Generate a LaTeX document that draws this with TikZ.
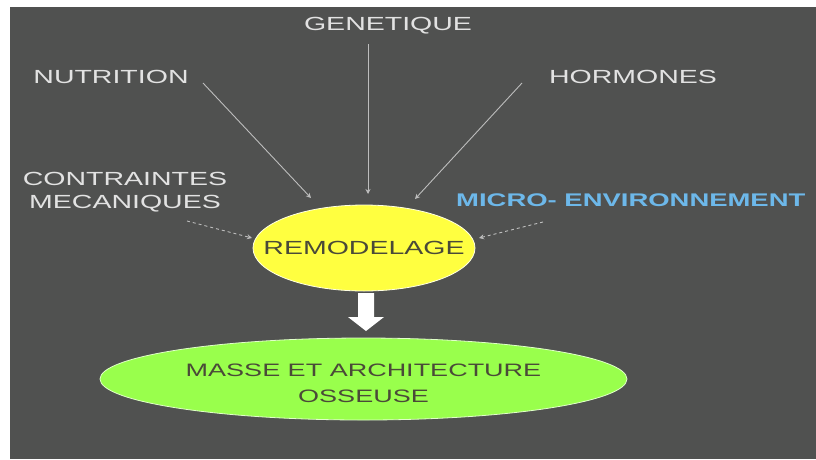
\documentclass[tikz,border=0pt]{standalone}
\usepackage{fontspec}
\setmainfont{Liberation Sans}
\newfontfamily\wf[FakeStretch=1.5]{Liberation Sans}
\usetikzlibrary{shapes.geometric,arrows.meta}
\definecolor{bg}{HTML}{505150}
\definecolor{lbl}{HTML}{E2E2E2}
\definecolor{lnk}{HTML}{BDBDBD}
\definecolor{yel}{HTML}{FFFF40}
\definecolor{grn}{HTML}{99FF4C}
\definecolor{blu}{HTML}{6DB8EA}
\definecolor{dtxt}{HTML}{4A4A38}
\tikzset{
  lab/.style={text=lbl, font=\wf\fontsize{19}{23}\selectfont, inner sep=0pt, align=center},
  link/.style={draw=lnk, line width=0.9pt, -{Stealth[length=5pt,width=5pt]}},
  dlink/.style={link, dash pattern=on 3pt off 3pt},
  oval/.style={ellipse, line width=0.8pt, inner sep=0pt},
  ovaltext/.style={text=dtxt, inner sep=0pt, align=center},
}
\begin{document}
\begin{tikzpicture}[x=1pt,y=-1pt]
\useasboundingbox (0,0) rectangle (816,459);
\fill[white] (0,0) rectangle (816,459);
\fill[bg] (10,7) rectangle (816,459);
% labels
\node[lab] (gen) at (388,26) {GENETIQUE};
\node[lab] (nut) at (111,77) {NUTRITION};
\node[lab] (hor) at (633,77) {HORMONES};
\node[lab] (con) at (125,192) {CONTRAINTES\\MECANIQUES};
\node[lab, text=blu, anchor=west, font=\wf\bfseries\fontsize{18.3}{22}\selectfont] (mic) at (456,200) {MICRO- ENVIRONNEMENT};
% ellipses
\node[oval, draw=white!85!yel, fill=yel, minimum width=222pt, minimum height=86pt] (rem) at (364,248) {};
\node[ovaltext, font=\wf\fontsize{19}{23}\selectfont] (remt) at (rem.center) {REMODELAGE};
\node[oval, draw=white!70!grn, fill=grn, minimum width=527pt, minimum height=82pt] (mas) at (363.5,379) {};
\node[ovaltext, font=\wf\fontsize{18}{26}\selectfont] (mast) at ([yshift=-4pt]mas.center) {MASSE ET ARCHITECTURE\\OSSEUSE};
% connector end points
\coordinate (nutS) at (203,83);
\coordinate (nutE) at (311,198);
\coordinate (genS) at (368,44);
\coordinate (genE) at (368,194);
\coordinate (horS) at (522,83);
\coordinate (horE) at (415,199);
\coordinate (conS) at (187,221);
\coordinate (conE) at (252,238);
\coordinate (micS) at (543,222);
\coordinate (micE) at (479,238);
\draw[link] (nutS) -- (nutE);
\draw[link] (genS) -- (genE);
\draw[link] (horS) -- (horE);
\draw[dlink] (conS) -- (conE);
\draw[dlink] (micS) -- (micE);
% block arrow
\fill[white] (358,293) -- (374,293) -- (374,317) -- (384,317) -- (366,331) -- (348,317) -- (358,317) -- cycle;
\end{tikzpicture}
\end{document}
